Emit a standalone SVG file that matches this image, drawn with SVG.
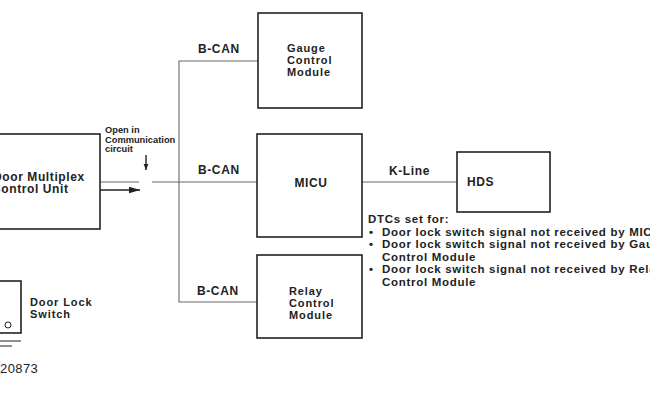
<svg xmlns="http://www.w3.org/2000/svg" width="650" height="400" viewBox="0 0 650 400">
<defs>
<style>
.box{fill:#fff;stroke:#222;stroke-width:1.6}
.t{font-family:"Liberation Sans",Arial,sans-serif;font-weight:bold;fill:#222;letter-spacing:0.6px}
.w{stroke:#666;stroke-width:1.1;fill:none}
.a{stroke:#222;stroke-width:1.4;fill:none}
</style>
<marker id="ah" viewBox="0 0 10 10" refX="10" refY="5" markerWidth="6" markerHeight="6" orient="auto" markerUnits="userSpaceOnUse"><path d="M0,1 L10,5 L0,9 z" fill="#222"/></marker>
<marker id="ahb" viewBox="0 0 10 10" refX="10" refY="5" markerWidth="11" markerHeight="11" orient="auto" markerUnits="userSpaceOnUse"><path d="M0,2 L10,5 L0,8 z" fill="#222"/></marker>
</defs>
<rect width="650" height="400" fill="#fff"/>
<g id="connectors">
<path class="w" d="M258,61 H179 V302 H257"/>
<path class="w" d="M100,182 H139 M152,182 H257"/>
<path class="w" d="M362,182 H457"/>
<path class="a" d="M100,190 H140" marker-end="url(#ahb)"/>
<path class="a" d="M146,155 V170" marker-end="url(#ah)"/>
</g>
<g id="door-multiplex">
<rect class="box" x="-10" y="134" width="110" height="95"/>
<text class="t" font-size="12" x="-7" y="181">Door Multiplex</text>
<text class="t" font-size="12" x="-8" y="193">Control Unit</text>
</g>
<g id="door-lock-switch">
<rect class="box" x="-10" y="281" width="31" height="52"/>
<circle cx="8" cy="325" r="3" fill="none" stroke="#222" stroke-width="1"/>
<path d="M0,341 H21 M0,346 H12" stroke="#222" stroke-width="1"/>
<text class="t" font-size="11" x="30" y="306" style="letter-spacing:0.9px">Door Lock</text>
<text class="t" font-size="11" x="30" y="318" style="letter-spacing:0.9px">Switch</text>
<text font-family="Liberation Sans,Arial,sans-serif" font-size="13" fill="#222" x="0" y="373" letter-spacing="0.4">20873</text>
</g>
<g id="gauge">
<rect class="box" x="258" y="13" width="104" height="95"/>
<text class="t" font-size="11" x="287" y="52" style="letter-spacing:0.9px">Gauge</text>
<text class="t" font-size="11" x="287" y="64" style="letter-spacing:0.9px">Control</text>
<text class="t" font-size="11" x="287" y="76" style="letter-spacing:0.9px">Module</text>
</g>
<g id="micu">
<rect class="box" x="257" y="134" width="105" height="103"/>
<text class="t" font-size="12" x="311" y="187" text-anchor="middle">MICU</text>
</g>
<g id="relay">
<rect class="box" x="257" y="255" width="105" height="83"/>
<text class="t" font-size="11" x="289" y="295" style="letter-spacing:0.9px">Relay</text>
<text class="t" font-size="11" x="289" y="307" style="letter-spacing:0.9px">Control</text>
<text class="t" font-size="11" x="289" y="319" style="letter-spacing:0.9px">Module</text>
</g>
<g id="hds">
<rect class="box" x="457" y="152" width="93" height="60"/>
<text class="t" font-size="12" x="467" y="186">HDS</text>
</g>
<g id="labels">
<text class="t" font-size="12" x="198" y="53">B-CAN</text>
<text class="t" font-size="12" x="198" y="174">B-CAN</text>
<text class="t" font-size="12" x="197" y="295">B-CAN</text>
<text class="t" font-size="12" x="389" y="175">K-Line</text>
<text class="t" font-size="9.3" x="105" y="133" style="letter-spacing:0">Open in</text>
<text class="t" font-size="9.3" x="105" y="143" style="letter-spacing:0">Communication</text>
<text class="t" font-size="9.3" x="105" y="152" style="letter-spacing:0">circuit</text>
</g>
<g id="dtcs" class="t" font-size="11.5" style="letter-spacing:0.7px">
<text x="368" y="223">DTCs set for:</text>
<text x="369" y="235.5">•</text><text x="382" y="235.5">Door lock switch signal not received by MICU</text>
<text x="369" y="248">•</text><text x="382" y="248">Door lock switch signal not received by Gauge</text>
<text x="382" y="260.5">Control Module</text>
<text x="369" y="273">•</text><text x="382" y="273">Door lock switch signal not received by Relay</text>
<text x="382" y="285.5">Control Module</text>
</g>
</svg>
